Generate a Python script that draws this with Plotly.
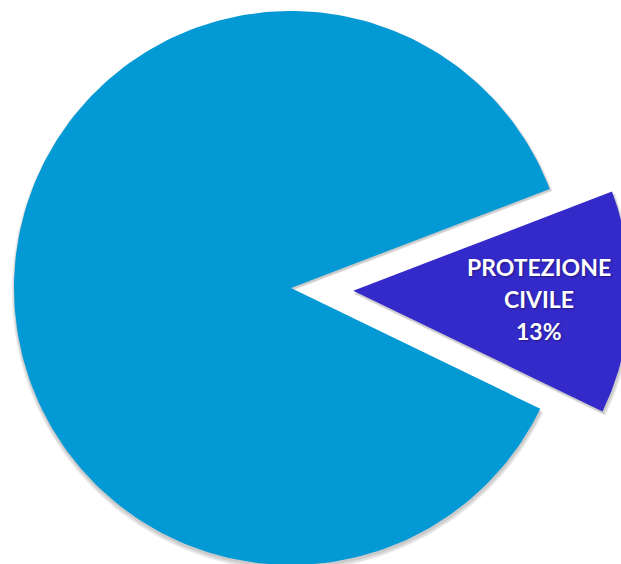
import numpy as np
import plotly.graph_objects as go

# Share of the budget by sector
labels = ["ALTRO", "PROTEZIONE CIVILE"]
values = [87, 13]
colors = ["#0399D5", "#3429C9"]
pulls = [0.0, 0.225]
text_shown = [False, True]

# Layout of the pie (in radius units)
mid_angle_deg = -2.45           # direction in which the highlighted slice points
label_radius = 0.67              # label distance from the slice tip
line_gap_px = 32                 # vertical spacing between label lines
cx_px, cy_px, r_px = 291, 288, 277
W, H = 621, 564

total = sum(values)
spans = [v / total * 360.0 for v in values]

# Angle extents: highlighted slice centred on mid_angle_deg, the rest wraps around
hi_start = mid_angle_deg - spans[1] / 2
hi_end = mid_angle_deg + spans[1] / 2
extents = [(hi_end, hi_start + 360.0), (hi_start, hi_end)]


def wedge(a0, a1, pull, mid, r=1.0, dx=0.0, dy=0.0):
    t = np.radians(np.linspace(a0, a1, 240))
    ox = pull * np.cos(np.radians(mid)) + dx
    oy = pull * np.sin(np.radians(mid)) + dy
    xs = np.concatenate([[ox], ox + r * np.cos(t), [ox]])
    ys = np.concatenate([[oy], oy + r * np.sin(t), [oy]])
    return xs, ys


fig = go.Figure()

px = 1.0 / r_px
# soft drop shadow below each slice
for grow, drop, alpha in [(3, 3, 0.05), (2, 3, 0.07), (1, 2, 0.09)]:
    for (a0, a1), p in zip(extents, pulls):
        mid = (a0 + a1) / 2
        xs, ys = wedge(a0, a1, p, mid, r=1 + grow * px, dx=0.5 * px, dy=-drop * px)
        fig.add_trace(go.Scatter(x=xs, y=ys, mode="lines", fill="toself",
                                 fillcolor=f"rgba(0,0,0,{alpha})",
                                 line=dict(width=0), hoverinfo="skip",
                                 showlegend=False))

for (a0, a1), p, c, lab in zip(extents, pulls, colors, labels):
    mid = (a0 + a1) / 2
    xs, ys = wedge(a0, a1, p, mid)
    fig.add_trace(go.Scatter(x=xs, y=ys, mode="lines", fill="toself",
                             fillcolor=c, line=dict(width=0, color=c),
                             name=lab, showlegend=False))

for (a0, a1), p, lab, v, show in zip(extents, pulls, labels, values, text_shown):
    if not show:
        continue
    mid = np.radians((a0 + a1) / 2)
    lx = (p + label_radius) * np.cos(mid)
    ly = (p + label_radius) * np.sin(mid)
    lines = lab.split(" ") + [f"{v}%"]
    n = len(lines)
    for i, line in enumerate(lines):
        fig.add_annotation(x=lx, y=ly, text=line, showarrow=False,
                           yshift=((n - 1) / 2 - i) * line_gap_px,
                           font=dict(family="Lato", size=23, color="white",
                                     weight="bold",
                                     shadow="1px 1px 2px rgba(0,0,0,0.35)"))

fig.update_xaxes(range=[-cx_px / r_px, (W - cx_px) / r_px], visible=False, fixedrange=True)
fig.update_yaxes(range=[-(H - cy_px) / r_px, cy_px / r_px], visible=False, fixedrange=True)
fig.update_layout(width=W, height=H, autosize=False,
                  margin=dict(l=0, r=0, t=0, b=0, pad=0),
                  paper_bgcolor="white", plot_bgcolor="white")

fig.write_html("out.html")
